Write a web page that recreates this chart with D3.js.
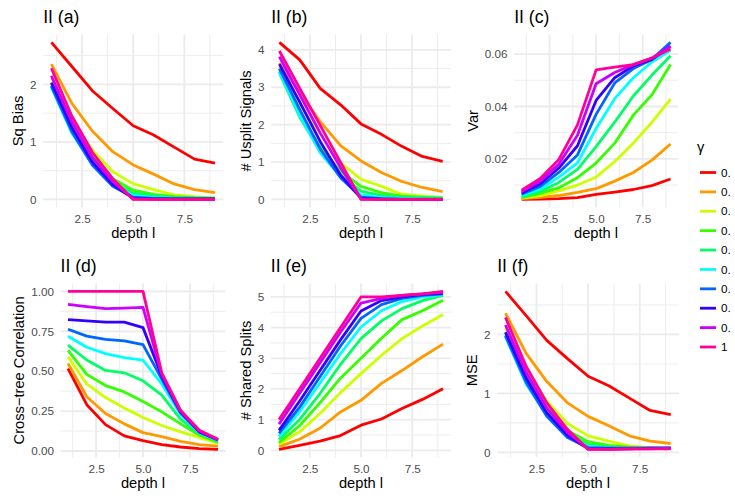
<!DOCTYPE html>
<html>
<head>
<meta charset="utf-8">
<script src="https://cdn.jsdelivr.net/npm/d3@7"></script>
<style>
  html, body { margin: 0; padding: 0; background: #ffffff; }
  svg { display: block; font-family: "Liberation Sans", Arial, Helvetica, sans-serif; }
</style>
</head>
<body>
<svg id="chart" width="735" height="499"></svg>
<script>
// Tree depth on the x axis, one line per gamma level
const depth = [1, 2, 3, 4, 5, 6, 7, 8, 9];
const gammaLevels = ["0.1", "0.2", "0.3", "0.4", "0.5", "0.6", "0.7", "0.8", "0.9", "1"];
const gammaColors = ["#FF0000", "#FF9900", "#CCFF00", "#33FF00", "#00FF66",
                     "#00FFFF", "#0066FF", "#3300FF", "#CC00FF", "#FF0099"];

// (a) squared bias
const sqBias = [
  [2.73, 2.31, 1.89, 1.58, 1.28, 1.12, 0.91, 0.70, 0.63],
  [2.35, 1.67, 1.19, 0.83, 0.60, 0.44, 0.27, 0.17, 0.12],
  [2.10, 1.38, 0.86, 0.48, 0.27, 0.17, 0.08, 0.05, 0.03],
  [2.02, 1.28, 0.76, 0.36, 0.16, 0.09, 0.05, 0.03, 0.02],
  [1.98, 1.22, 0.68, 0.30, 0.11, 0.06, 0.03, 0.02, 0.01],
  [1.95, 1.15, 0.62, 0.25, 0.07, 0.03, 0.02, 0.01, 0.01],
  [1.97, 1.18, 0.60, 0.23, 0.04, 0.02, 0.01, 0.01, 0.01],
  [2.03, 1.25, 0.65, 0.26, 0.02, 0.01, 0.01, 0.01, 0.01],
  [2.15, 1.35, 0.73, 0.31, 0.01, 0.00, 0.00, 0.00, 0.00],
  [2.28, 1.45, 0.82, 0.36, 0.00, 0.00, 0.00, 0.00, 0.00]
];

// (b) number of unsplit signals
const usplitSignals = [
  [4.20, 3.73, 2.97, 2.53, 2.02, 1.74, 1.42, 1.15, 1.02],
  [3.65, 2.85, 2.08, 1.44, 1.03, 0.72, 0.48, 0.32, 0.21],
  [3.55, 2.55, 1.75, 0.98, 0.54, 0.35, 0.14, 0.09, 0.05],
  [3.42, 2.25, 1.40, 0.75, 0.35, 0.18, 0.09, 0.06, 0.04],
  [3.38, 2.20, 1.30, 0.65, 0.22, 0.10, 0.05, 0.03, 0.02],
  [3.42, 2.25, 1.25, 0.60, 0.12, 0.05, 0.03, 0.02, 0.01],
  [3.50, 2.40, 1.35, 0.58, 0.06, 0.02, 0.01, 0.01, 0.01],
  [3.62, 2.60, 1.55, 0.65, 0.03, 0.01, 0.00, 0.00, 0.00],
  [3.82, 2.80, 1.78, 0.85, 0.01, 0.00, 0.00, 0.00, 0.00],
  [3.97, 2.97, 1.98, 0.99, 0.00, 0.00, 0.00, 0.00, 0.00]
];

// (c) variance
const variance = [
  [0.0045, 0.0046, 0.0048, 0.0052, 0.0064, 0.0073, 0.0083, 0.0098, 0.0123],
  [0.0048, 0.0053, 0.0060, 0.0072, 0.0086, 0.0115, 0.0148, 0.0195, 0.0257],
  [0.0050, 0.0060, 0.0078, 0.0100, 0.0130, 0.0190, 0.0260, 0.0340, 0.0428],
  [0.0052, 0.0068, 0.0090, 0.0128, 0.0184, 0.0260, 0.0367, 0.0445, 0.0560],
  [0.0055, 0.0075, 0.0110, 0.0160, 0.0247, 0.0340, 0.0440, 0.0520, 0.0594],
  [0.0060, 0.0085, 0.0130, 0.0185, 0.0316, 0.0430, 0.0510, 0.0570, 0.0615],
  [0.0065, 0.0095, 0.0148, 0.0215, 0.0370, 0.0490, 0.0545, 0.0580, 0.0645],
  [0.0070, 0.0105, 0.0165, 0.0250, 0.0423, 0.0510, 0.0555, 0.0580, 0.0630],
  [0.0075, 0.0115, 0.0180, 0.0290, 0.0487, 0.0530, 0.0560, 0.0585, 0.0630],
  [0.0080, 0.0125, 0.0198, 0.0330, 0.0540, 0.0550, 0.0560, 0.0585, 0.0620]
];

// (d) correlation between trees
const crossTreeCorr = [
  [0.517, 0.290, 0.165, 0.095, 0.065, 0.040, 0.025, 0.015, 0.010],
  [0.548, 0.340, 0.235, 0.170, 0.115, 0.090, 0.060, 0.040, 0.030],
  [0.590, 0.420, 0.335, 0.270, 0.210, 0.160, 0.120, 0.085, 0.047],
  [0.631, 0.480, 0.410, 0.370, 0.310, 0.245, 0.170, 0.100, 0.055],
  [0.663, 0.570, 0.505, 0.490, 0.440, 0.350, 0.200, 0.110, 0.063],
  [0.719, 0.650, 0.610, 0.585, 0.569, 0.420, 0.230, 0.115, 0.065],
  [0.763, 0.720, 0.700, 0.690, 0.667, 0.450, 0.240, 0.120, 0.068],
  [0.823, 0.815, 0.807, 0.807, 0.773, 0.470, 0.245, 0.120, 0.070],
  [0.919, 0.905, 0.892, 0.895, 0.900, 0.480, 0.250, 0.125, 0.070],
  [1.000, 1.000, 1.000, 1.000, 1.000, 0.490, 0.256, 0.130, 0.073]
];

// (e) number of splits shared between trees
const sharedSplits = [
  [0.03, 0.16, 0.30, 0.48, 0.82, 1.02, 1.36, 1.66, 2.01],
  [0.12, 0.36, 0.72, 1.25, 1.63, 2.18, 2.60, 3.05, 3.46],
  [0.20, 0.60, 1.20, 1.88, 2.50, 3.10, 3.64, 4.05, 4.43],
  [0.25, 0.80, 1.55, 2.35, 3.00, 3.65, 4.26, 4.55, 4.89],
  [0.35, 1.00, 1.85, 2.80, 3.64, 4.22, 4.62, 4.88, 5.05],
  [0.45, 1.25, 2.20, 3.15, 4.02, 4.55, 4.85, 5.00, 5.07],
  [0.55, 1.40, 2.40, 3.40, 4.30, 4.75, 4.95, 5.05, 5.10],
  [0.65, 1.60, 2.60, 3.60, 4.54, 4.88, 5.00, 5.08, 5.12],
  [0.85, 1.85, 2.85, 3.85, 4.80, 4.95, 5.05, 5.10, 5.15],
  [1.00, 2.00, 3.00, 4.00, 5.00, 5.00, 5.05, 5.10, 5.18]
];

// (f) mean squared error
const mse = [
  [2.73, 2.32, 1.90, 1.59, 1.29, 1.13, 0.92, 0.71, 0.64],
  [2.36, 1.68, 1.20, 0.84, 0.61, 0.45, 0.28, 0.19, 0.15],
  [2.11, 1.39, 0.87, 0.49, 0.28, 0.19, 0.11, 0.08, 0.07],
  [2.03, 1.29, 0.77, 0.37, 0.18, 0.12, 0.09, 0.07, 0.07],
  [1.99, 1.23, 0.69, 0.32, 0.13, 0.09, 0.07, 0.07, 0.07],
  [1.96, 1.16, 0.63, 0.27, 0.10, 0.07, 0.07, 0.07, 0.07],
  [1.98, 1.19, 0.61, 0.25, 0.08, 0.07, 0.07, 0.07, 0.07],
  [2.04, 1.26, 0.67, 0.29, 0.06, 0.06, 0.06, 0.07, 0.07],
  [2.16, 1.36, 0.75, 0.34, 0.06, 0.05, 0.06, 0.06, 0.07],
  [2.29, 1.46, 0.84, 0.39, 0.05, 0.05, 0.06, 0.06, 0.06]
];

// Axis ticks
const xTicks = [2.5, 5.0, 7.5];
const xMinorTicks = [1.25, 3.75, 6.25, 8.75];
const ticksBias = [0, 1, 2];
const ticksUsplit = [0, 1, 2, 3, 4];
const ticksVar = [0.02, 0.04, 0.06];
const ticksCorr = [0, 0.25, 0.5, 0.75, 1];
const ticksShared = [0, 1, 2, 3, 4, 5];
const ticksMse = [0, 1, 2];

// Panel layout: plot-area boxes in pixels
const panels = [
  { title: "II (a)", yTitle: "Sq Bias", values: sqBias, yTicks: ticksBias, fmt: d3.format("d"),
    box: [43.2, 223.2, 34.5, 207.3] },
  { title: "II (b)", yTitle: "# Usplit Signals", values: usplitSignals, yTicks: ticksUsplit, fmt: d3.format("d"),
    box: [271.2, 450.8, 34.5, 207.3] },
  { title: "II (c)", yTitle: "Var", values: variance, yTicks: ticksVar, fmt: d3.format(".2f"),
    box: [514.2, 678.0, 34.5, 207.3] },
  { title: "II (d)", yTitle: "Cross\u2212tree Correlation", values: crossTreeCorr, yTicks: ticksCorr, fmt: d3.format(".2f"),
    box: [60.5, 225.5, 283.5, 457.3] },
  { title: "II (e)", yTitle: "# Shared Splits", values: sharedSplits, yTicks: ticksShared, fmt: d3.format("d"),
    box: [270.8, 451.2, 283.5, 457.3] },
  { title: "II (f)", yTitle: "MSE", values: mse, yTicks: ticksMse, fmt: d3.format("d"),
    box: [497.2, 679.0, 283.5, 457.3] }
];

const svg = d3.select("#chart");
const gridColor = "#EBEBEB";
const tickColor = "#4D4D4D";
const tickSize = 11.7, axisTitleSize = 14.7, titleSize = 17.6;

panels.forEach(p => {
  const [x0, x1, y0, y1] = p.box;
  const all = p.values.flat();
  const lo = d3.min(all), hi = d3.max(all), pad = (hi - lo) * 0.05;
  const x = d3.scaleLinear().domain([0.6, 9.4]).range([x0, x1]);
  const y = d3.scaleLinear().domain([lo - pad, hi + pad]).range([y1, y0]);

  const g = svg.append("g");

  // minor grid: halfway between major breaks
  const step = p.yTicks[1] - p.yTicks[0];
  const yMinor = d3.range(p.yTicks[0] - step / 2, hi + pad, step)
    .filter(v => v >= lo - pad && v <= hi + pad);

  g.append("g").selectAll("line").data(yMinor).join("line")
    .attr("x1", x0).attr("x2", x1).attr("y1", d => y(d)).attr("y2", d => y(d))
    .attr("stroke", gridColor).attr("stroke-width", 0.9);
  g.append("g").selectAll("line").data(xMinorTicks).join("line")
    .attr("x1", d => x(d)).attr("x2", d => x(d)).attr("y1", y0).attr("y2", y1)
    .attr("stroke", gridColor).attr("stroke-width", 0.9);

  // major grid
  g.append("g").selectAll("line").data(p.yTicks).join("line")
    .attr("x1", x0).attr("x2", x1).attr("y1", d => y(d)).attr("y2", d => y(d))
    .attr("stroke", gridColor).attr("stroke-width", 1.8);
  g.append("g").selectAll("line").data(xTicks).join("line")
    .attr("x1", d => x(d)).attr("x2", d => x(d)).attr("y1", y0).attr("y2", y1)
    .attr("stroke", gridColor).attr("stroke-width", 1.8);

  // axes (labels only)
  const xAxis = g.append("g").attr("transform", `translate(0,${y1})`)
    .call(d3.axisBottom(x).tickValues(xTicks).tickFormat(d3.format(".1f")).tickSize(0).tickPadding(7));
  const yAxis = g.append("g").attr("transform", `translate(${x0},0)`)
    .call(d3.axisLeft(y).tickValues(p.yTicks).tickFormat(p.fmt).tickSize(0).tickPadding(6.6));
  [xAxis, yAxis].forEach(a => {
    a.select(".domain").remove();
    a.selectAll("text").attr("fill", tickColor).style("font-size", tickSize + "px")
      .style("font-family", "'Liberation Sans', Arial, sans-serif");
  });

  // series lines, lowest gamma first so gamma = 1 sits on top
  const line = d3.line().x((d, i) => x(depth[i])).y(d => y(d));
  g.append("g").selectAll("path").data(p.values).join("path")
    .attr("d", line)
    .attr("fill", "none")
    .attr("stroke", (d, i) => gammaColors[i])
    .attr("stroke-width", 2.8)
    .attr("stroke-linejoin", "round");

  // titles
  g.append("text").attr("x", x0).attr("y", y0 - 11.8)
    .style("font-size", titleSize + "px").attr("fill", "#000").text(p.title);
  g.append("text").attr("x", (x0 + x1) / 2).attr("y", y1 + 31)
    .attr("text-anchor", "middle").style("font-size", axisTitleSize + "px").attr("fill", "#000")
    .text("depth l");

  let labelLeft = x0;
  yAxis.selectAll("text").each(function () {
    labelLeft = Math.min(labelLeft, x0 - 6.6 - this.getComputedTextLength());
  });
  const yt = labelLeft - 6.8, yc = (y0 + y1) / 2;
  g.append("text").attr("transform", `translate(${yt},${yc}) rotate(-90)`)
    .attr("text-anchor", "middle").style("font-size", axisTitleSize + "px").attr("fill", "#000")
    .text(p.yTitle);
});

// legend; the canvas ends just past the key labels, so they are cut at the edge
svg.append("defs").append("clipPath").attr("id", "legend-clip")
  .append("rect").attr("x", 680).attr("y", 120).attr("width", 50).attr("height", 260);
const legend = svg.append("g").attr("clip-path", "url(#legend-clip)");
legend.append("text").attr("x", 697).attr("y", 152)
  .style("font-size", axisTitleSize + "px").attr("fill", "#000").text("\u03b3");
const keyY = d3.scalePoint().domain(gammaLevels).range([172.5, 347]);
legend.selectAll("line").data(gammaLevels).join("line")
  .attr("x1", 700).attr("x2", 716)
  .attr("y1", d => keyY(d)).attr("y2", d => keyY(d))
  .attr("stroke", (d, i) => gammaColors[i]).attr("stroke-width", 2.8);
legend.selectAll("text.lab").data(gammaLevels).join("text").attr("class", "lab")
  .attr("x", 721).attr("y", d => keyY(d) + 4.2)
  .style("font-size", tickSize + "px").attr("fill", "#000").text(d => d);
</script>
</body>
</html>
